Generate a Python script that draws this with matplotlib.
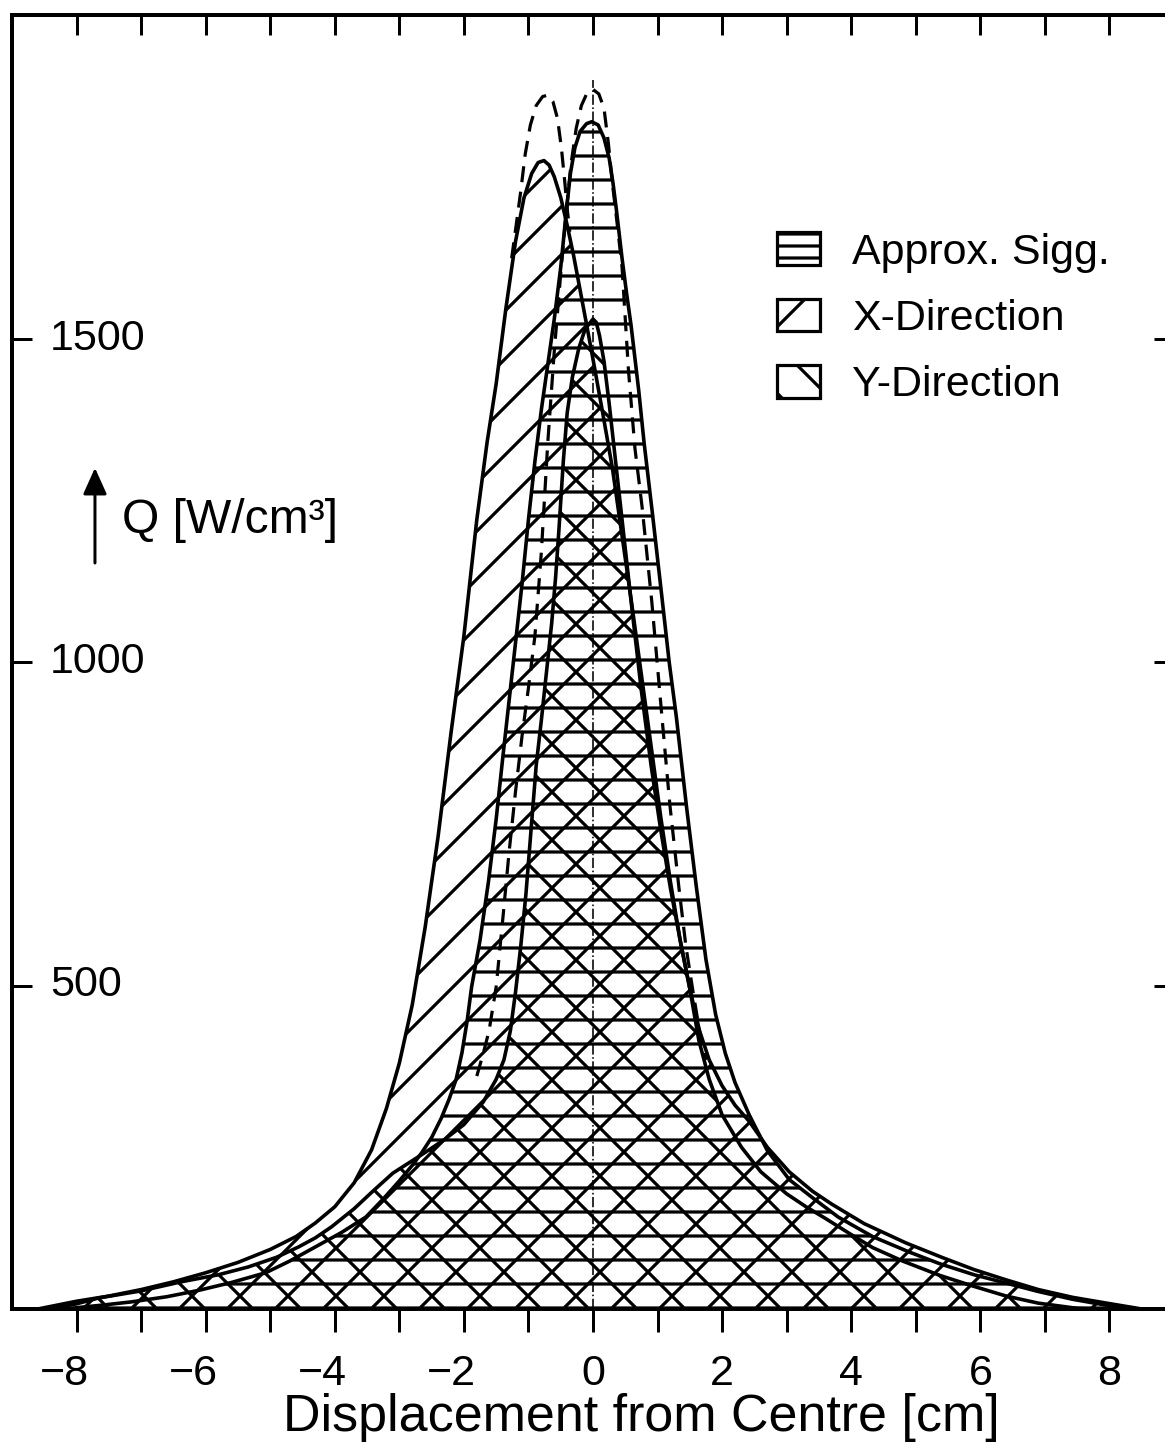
import matplotlib
matplotlib.use("Agg")
import matplotlib.pyplot as plt
from matplotlib.patches import Patch
from matplotlib import transforms

plt.rcParams['font.family'] = ['Liberation Sans', 'DejaVu Sans']
plt.rcParams['hatch.linewidth'] = 1.6
plt.rcParams['hatch.color'] = 'black'

# X-direction profile (/ hatch)
xdir_x = [-8.6, -8.0, -7.5, -7.0, -6.5, -6.0, -5.5, -5.0, -4.6, -4.3, -4.0, -3.7,
          -3.43, -3.2, -3.0, -2.8, -2.6, -2.4, -2.2, -2.0, -1.8, -1.64, -1.5, -1.35,
          -1.2, -1.07, -0.95, -0.85, -0.76, -0.68, -0.6, -0.5, -0.4, -0.3, -0.2, -0.1,
          0.0, 0.15, 0.3, 0.45, 0.6, 0.75, 0.9, 1.05, 1.2, 1.35, 1.5, 1.65, 1.8, 2.0,
          2.2, 2.42, 2.7, 3.04, 3.4, 3.7, 4.2, 4.85, 5.4, 5.9, 6.4, 6.9, 7.43, 7.96,
          8.5]
xdir_q = [0, 12, 20, 30, 42, 56, 72, 92, 112, 133, 158, 195,
          246, 310, 380, 470, 590, 730, 890, 1040, 1220, 1340, 1430, 1546,
          1650, 1717, 1755, 1772, 1775, 1768, 1750, 1718, 1675, 1628, 1575, 1522,
          1468, 1385, 1300, 1195, 1090, 980, 870, 760, 660, 570, 495, 430, 385, 345,
          315, 290, 250, 212, 182, 162, 132, 102, 80, 61, 45, 30, 18, 9,
          0]

# Y-direction profile (\ hatch)
ydir_x = [-8.4, -8.0, -7.66, -7.0, -6.38, -5.8, -5.34, -4.9, -4.56, -4.3, -4.05,
          -3.7, -3.4, -3.1, -2.85, -2.6, -2.3, -2.0, -1.7, -1.5, -1.38, -1.28, -1.2,
          -1.12, -1.04, -0.96, -0.88, -0.8, -0.72, -0.64, -0.58, -0.53, -0.46, -0.4,
          -0.32, -0.22, -0.12, 0.0, 0.05, 0.1, 0.17, 0.25, 0.35, 0.45, 0.6, 0.75, 0.9,
          1.05, 1.2, 1.35, 1.5, 1.64, 1.8, 2.0, 2.3, 2.6, 3.0, 3.3, 3.6, 4.0, 4.33,
          4.8, 5.37, 5.9, 6.4, 6.9, 7.5, 7.7]
ydir_q = [0, 8, 17, 28, 42, 53, 65, 80, 96, 110, 127,
          155, 183, 210, 226, 242, 262, 285, 320, 355, 385, 430, 490,
          560, 640, 740, 840, 910, 985, 1060, 1130, 1201, 1310, 1385,
          1440, 1485, 1515, 1530, 1525, 1505, 1465, 1400, 1310, 1220, 1085, 955, 840,
          740, 650, 570, 495, 415, 355, 300, 250, 212, 178, 158, 140, 115, 95,
          74, 52, 35, 20, 9, 1, 0]

# approximation after Sigg. (horizontal hatch)
sigg_x = [-8.2, -7.6, -7.15, -6.6, -6.1, -5.6, -5.07, -4.7, -4.3, -3.9, -3.52,
          -3.25, -3.0, -2.8, -2.65, -2.5, -2.35, -2.23, -2.12, -2.03, -1.95, -1.88,
          -1.75, -1.62, -1.5, -1.4, -1.3, -1.2, -1.1, -1.0, -0.9, -0.8, -0.7, -0.6,
          -0.5, -0.42, -0.35, -0.28, -0.2, -0.1, -0.02, 0.08, 0.17, 0.25, 0.31, 0.36,
          0.45, 0.52, 0.59, 0.71, 0.79, 0.92, 1.07, 1.18, 1.29, 1.45, 1.6, 1.75, 1.9,
          2.05, 2.2, 2.42, 2.7, 3.04, 3.4, 3.8, 4.33, 4.9, 5.37, 5.9, 6.4, 6.9, 7.43,
          8.0, 8.3]
sigg_q = [0, 6, 11, 19, 29, 41, 56, 74, 96, 118, 142,
          170, 198, 222, 242, 265, 295, 324, 355, 396, 445, 498,
          570, 660, 757, 850, 940, 1030, 1120, 1220, 1310, 1390, 1460, 1530,
          1610, 1690, 1755, 1795, 1820, 1832, 1835, 1830, 1810, 1779, 1740, 1701,
          1624, 1570, 1520, 1418, 1340, 1230, 1098, 1000, 916, 775, 653, 540, 455,
          395, 350, 300, 245, 200, 172, 142, 112, 88, 70, 53, 40, 27, 15,
          5, 0]

# dashed peaks
dash_left_x = [-1.26, -1.2, -1.12, -1.05, -0.97, -0.88, -0.78, -0.7, -0.62, -0.55,
               -0.49, -0.44, -0.4, -0.36]
dash_left_q = [1624, 1668, 1727, 1785, 1830, 1860, 1874, 1876, 1866, 1840,
               1795, 1745, 1701, 1665]
dash_right_x = [-1.8, -1.7, -1.61, -1.5, -1.4, -1.3, -1.2, -1.1, -1.0, -0.9, -0.8,
                -0.7, -0.6, -0.5, -0.42, -0.34, -0.26, -0.18, -0.09, 0.0, 0.09, 0.17,
                0.24, 0.3, 0.36, 0.45, 0.55, 0.65, 0.76, 0.91, 1.07, 1.19, 1.33, 1.44,
                1.55, 1.65, 1.75]
dash_right_q = [360, 395, 430, 498, 600, 706, 800, 885, 960, 1040, 1170,
                1340, 1480, 1600, 1690, 1770, 1825, 1860, 1880, 1885, 1878, 1856,
                1800, 1740, 1690, 1610, 1450, 1330, 1240, 1094, 913, 780, 652, 560,
                490, 430, 385]

centre_x = 0.0
centre_top = 1900

x_ticks = list(range(-8, 9))
x_labels = [-8, -6, -4, -2, 0, 2, 4, 6, 8]
y_ticks = [500, 1000, 1500]

legend_labels = ['Approx. Sigg.', 'X-Direction', 'Y-Direction']

fig = plt.figure(figsize=(1165 / 144, 1442 / 144), dpi=144)
ax = fig.add_axes([12 / 1165, 133 / 1442, 1162 / 1165, 1294 / 1442])

ax.fill_between(xdir_x, xdir_q, 0, facecolor='none', edgecolor='black', hatch='/', linewidth=1.8)
ax.fill_between(sigg_x, sigg_q, 0, facecolor='none', edgecolor='black', hatch='-', linewidth=1.8)
ax.fill_between(ydir_x, ydir_q, 0, facecolor='none', edgecolor='black', hatch='\\', linewidth=1.8)

ax.plot(dash_left_x, dash_left_q, color='black', lw=1.6, ls=(0, (5, 3)))
ax.plot(dash_right_x, dash_right_q, color='black', lw=1.6, ls=(0, (5, 3)))
ax.plot([centre_x, centre_x], [0, centre_top], color='black', lw=0.8, ls='-.')

ax.set_xlim(-9, 9)
ax.set_ylim(0, 2000)
for s in ax.spines.values():
    s.set_linewidth(2)

ax.set_xticks(x_ticks)
ax.set_yticks(y_ticks)
ax.tick_params(axis='x', direction='out', length=11.5, width=1.5, labelbottom=False)
ax.tick_params(axis='y', direction='in', length=10, width=1.5, left=True, right=True,
               labelleft=False)

top = ax.secondary_xaxis('top')
top.set_xticks(x_ticks)
top.tick_params(direction='in', length=10, width=1.5, labeltop=False)
top.spines['top'].set_linewidth(2)

# tick labels: digit centred on the tick, minus sign hanging to the left
xlab_tf = transforms.offset_copy(ax.get_xaxis_transform(), fig=fig, x=6.0, y=0, units='points')
for v in x_labels:
    ax.text(v, -0.0587, str(v).replace('-', '\u2212'), transform=xlab_tf,
            ha='right', va='baseline', fontsize=21.5)
for v in y_ticks:
    ax.text(0.0327, v, str(v), transform=ax.get_yaxis_transform(),
            ha='left', va='center', fontsize=21.5)

ax.text(0.542, -0.0943, 'Displacement from Centre [cm]', transform=ax.transAxes,
        ha='center', va='baseline', fontsize=26)

ax.annotate('', xy=(0.0714, 0.650), xytext=(0.0714, 0.5765), xycoords='axes fraction',
            arrowprops=dict(arrowstyle='-|>,head_length=0.4,head_width=0.18',
                            color='black', lw=1.5, mutation_scale=28,
                            shrinkA=0, shrinkB=0))
ax.text(0.0947, 0.5997, 'Q [W/cm\u00b3]', transform=ax.transAxes, fontsize=24, va='baseline')

handles = [Patch(facecolor='white', edgecolor='black', hatch='--', lw=1.6),
           Patch(facecolor='white', edgecolor='black', hatch='/', lw=1.6),
           Patch(facecolor='white', edgecolor='black', hatch='\\', lw=1.6)]
ax.legend(handles, legend_labels, loc='upper left', bbox_to_anchor=(0.658, 0.832),
          frameon=False, fontsize=21.5, handlelength=1.0, handleheight=0.8,
          handletextpad=0.75, labelspacing=0.6, borderpad=0, borderaxespad=0)

fig.savefig('out.png', dpi=144)
